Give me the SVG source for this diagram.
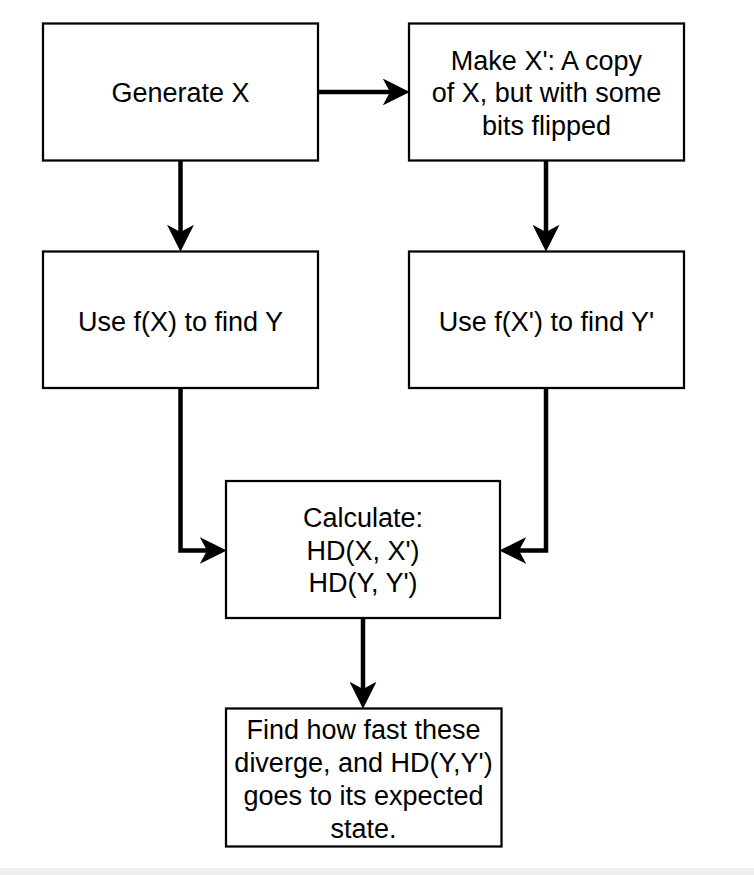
<svg xmlns="http://www.w3.org/2000/svg" width="754" height="875" viewBox="0 0 754 875">
  <style>
    .box rect { fill: #ffffff; stroke: #000000; stroke-width: 2.25; }
    .box text { font-family: "Liberation Sans", Arial, sans-serif; font-size: 27px; fill: #000000; text-anchor: middle; }
    .conn path { fill: none; stroke: #000000; stroke-width: 4.5; }
  </style>
  <defs>
    <marker id="arrow" markerUnits="userSpaceOnUse" markerWidth="27" markerHeight="27" viewBox="0 0 26 26" refX="7" refY="13" orient="auto">
      <path d="M0,0 L26,13 L0,26 L7,13 Z" fill="#000000"/>
    </marker>
  </defs>
  <rect x="0" y="0" width="754" height="875" fill="#ffffff"/>
  <rect x="0" y="868" width="754" height="7" fill="#efefef"/>

  <g id="connectors" class="conn">
    <path d="M318,92 L390,92" marker-end="url(#arrow)"/>
    <path d="M180.5,160 L180.5,232" marker-end="url(#arrow)"/>
    <path d="M546,160 L546,232" marker-end="url(#arrow)"/>
    <path d="M180.5,388 L180.5,550.5 L207,550.5" marker-end="url(#arrow)"/>
    <path d="M546,388 L546,550.5 L519,550.5" marker-end="url(#arrow)"/>
    <path d="M363,618 L363,689" marker-end="url(#arrow)"/>
  </g>

  <g id="generate" class="box">
    <rect x="43" y="23.5" width="275" height="137"/>
    <text x="180.5" y="102">Generate X</text>
  </g>
  <g id="make" class="box">
    <rect x="409" y="23.5" width="275" height="137"/>
    <text x="546.5" y="69.5">Make X': A copy</text>
    <text x="546.5" y="102">of X, but with some</text>
    <text x="546.5" y="134.5">bits flipped</text>
  </g>
  <g id="usefx" class="box">
    <rect x="43" y="251.5" width="275" height="136.5"/>
    <text x="180.5" y="330.5">Use f(X) to find Y</text>
  </g>
  <g id="usefx2" class="box">
    <rect x="409" y="251.5" width="275" height="136.5"/>
    <text x="546.5" y="330.5">Use f(X') to find Y'</text>
  </g>
  <g id="calc" class="box">
    <rect x="226" y="481" width="274" height="137"/>
    <text x="363" y="527">Calculate:</text>
    <text x="363" y="559.5">HD(X, X')</text>
    <text x="363" y="592">HD(Y, Y')</text>
  </g>
  <g id="find" class="box">
    <rect x="226" y="708.5" width="275.5" height="138"/>
    <text x="363.5" y="738.5">Find how fast these</text>
    <text x="363.5" y="771.5">diverge, and HD(Y,Y')</text>
    <text x="363.5" y="804.5">goes to its expected</text>
    <text x="363.5" y="837.5">state.</text>
  </g>
</svg>
